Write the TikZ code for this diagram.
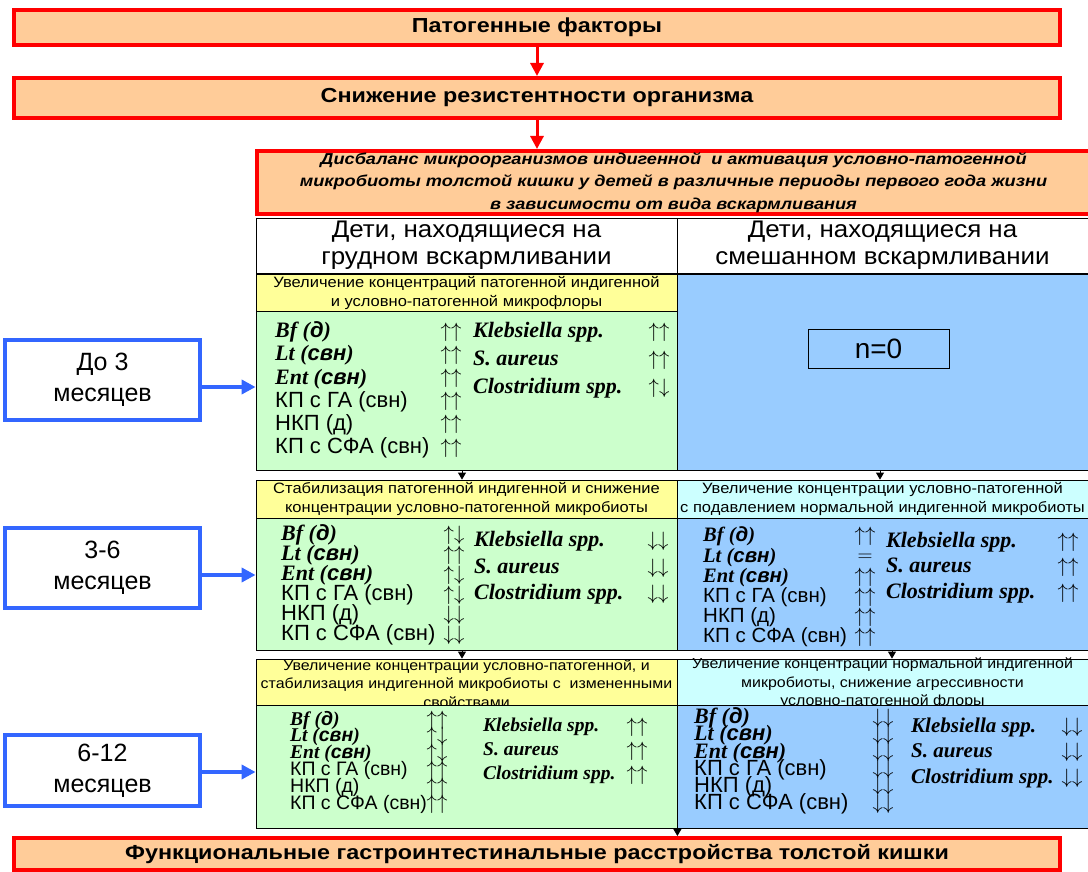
\documentclass[tikz,border=0pt]{standalone}
\usepackage{fontspec}
\setmainfont{Liberation Serif}
\setsansfont{Liberation Sans}
\newfontfamily\widesans[FakeStretch=1.15]{Liberation Sans}
\newfontfamily\midsans[FakeStretch=1.08]{Liberation Sans}
\newfontfamily\narsans[FakeStretch=1.1]{Liberation Sans}
\usetikzlibrary{arrows.meta,positioning}
\definecolor{peach}{HTML}{FFCC99}
\definecolor{hdyel}{HTML}{FFFF99}
\definecolor{bdgrn}{HTML}{CCFFCC}
\definecolor{bdblu}{HTML}{99CCFF}
\definecolor{hdcyn}{HTML}{CCFFFF}
\definecolor{agebl}{HTML}{3366FF}
\newcommand{\fsz}[2]{\fontsize{#1}{#2}\selectfont\lineskiplimit=-50pt}
\newcommand{\gen}[2]{{\rmfamily\bfseries\itshape #1 (\textsf{#2})}}
\newcommand{\upup}{$\uparrow\uparrow$}
\newcommand{\updn}{$\uparrow\downarrow$}
\newcommand{\dndn}{$\downarrow\downarrow$}
\tikzstyle{fact}=[rectangle,draw=red,line width=4pt,fill=peach,inner sep=0pt,align=center,font=\widesans\bfseries\fsz{20.3}{22}]
\tikzstyle{age}=[rectangle,draw=agebl,line width=4pt,fill=white,minimum width=195pt,align=center,font=\sffamily\fsz{25}{31}]
\tikzstyle{hd}=[rectangle,draw,line width=0.8pt,inner sep=0pt,align=center,font=\narsans\fsz{15}{19}]
\tikzstyle{bd}=[rectangle,draw,line width=0.8pt,inner sep=0pt]
\tikzstyle{lst}=[inner sep=0pt,align=left,anchor=west]
\tikzstyle{sgn}=[inner sep=0pt,align=center]
\tikzstyle{redarr}=[-{Triangle[length=13pt,width=13pt]},red,line width=3pt]
\tikzstyle{bluarr}=[-{Triangle[length=14pt,width=14pt]},agebl,line width=4pt]
\tikzstyle{tip}=[-{Triangle[length=7pt,width=8pt]},line width=0.8pt]

\begin{document}
\begin{tikzpicture}[x=1pt,y=-1pt]
\useasboundingbox (0,0) rectangle (1088,872);
% causes
\node[fact,minimum width=1046pt,minimum height=35pt] (pf) at (537,27.5) {Патогенные факторы};
\node[fact,minimum width=1046pt,minimum height=40pt] (sr) at (537,98) {Снижение резистентности организма};
\node[fact,minimum width=833pt,minimum height=63pt,font=\widesans\bfseries\itshape\fsz{15.8}{22.5}] (dis) at (673.5,182.5) {Дисбаланс микроорганизмов индигенной \ и активация условно-патогенной\\микробиоты толстой кишки у детей в различные периоды первого года жизни\\в зависимости от вида вскармливания};
\draw[redarr] (pf.south) -- (sr.north);
\draw[redarr] (sr.south) -- (sr.south |- dis.north);
% feeding type
\node[hd,fill=white,minimum width=421pt,minimum height=55pt,font=\midsans\fsz{24}{27}] (brL) at (466.5,245.5) {Дети, находящиеся на\\грудном вскармливании};
\node[hd,fill=white,minimum width=411pt,minimum height=55pt,font=\midsans\fsz{24}{27}] (brR) at (882.5,245.5) {Дети, находящиеся на\\смешанном вскармливании};
% up to 3 months
\node[hd,fill=hdyel,minimum width=421pt,minimum height=37pt] (h1L) at (466.5,292.5) {Увеличение концентраций патогенной индигенной\\и условно-патогенной микрофлоры};
\node[bd,fill=bdgrn,minimum width=421pt,minimum height=159pt] (b1L) at (466.5,390.5) {};
\node[bd,fill=bdblu,minimum width=411pt,minimum height=196pt] (b1R) at (882.5,372) {};
\node[bd,minimum width=141pt,minimum height=39pt,font=\sffamily\fsz{28}{30}] (n0) at (878.5,348.5) {n=0};
\node[lst,font=\sffamily\fsz{22}{23.2}] (l1L) at (275,390) {\gen{Bf}{д}\\\gen{Lt}{свн}\\\gen{Ent}{свн}\\КП с ГА (свн)\\НКП (д)\\КП с СФА (свн)};
\node[sgn,font=\fsz{22}{23.2}] (s1L) at (451,390) {\upup\\\upup\\\upup\\\upup\\\upup\\\upup};
\node[lst,font=\rmfamily\bfseries\itshape\fsz{22}{28}] (k1L) at (473,360) {Klebsiella spp.\\S. aureus\\Clostridium spp.};
\node[sgn,font=\fsz{22}{28}] (q1L) at (659,360) {\upup\\\upup\\\updn};
% 3-6 months
\node[hd,fill=hdyel,minimum width=421pt,minimum height=38pt] (h2L) at (466.5,499) {Стабилизация патогенной индигенной и снижение\\концентрации условно-патогенной микробиоты};
\node[bd,fill=bdgrn,minimum width=421pt,minimum height=132pt] (b2L) at (466.5,584) {};
\node[hd,fill=hdcyn,minimum width=411pt,minimum height=38pt] (h2R) at (882.5,499) {Увеличение концентрации условно-патогенной\\с подавлением нормальной индигенной микробиоты};
\node[bd,fill=bdblu,minimum width=411pt,minimum height=132pt] (b2R) at (882.5,584) {};
\node[lst,font=\sffamily\fsz{22}{20}] (l2L) at (281,585) {\gen{Bf}{д}\\\gen{Lt}{свн}\\\gen{Ent}{свн}\\КП с ГА (свн)\\НКП (д)\\КП с СФА (свн)};
\node[sgn,font=\fsz{22}{20}] (s2L) at (454,585) {\updn\\\upup\\\updn\\\updn\\\dndn\\\dndn};
\node[lst,font=\rmfamily\bfseries\itshape\fsz{22}{26.5}] (k2L) at (474,568) {Klebsiella spp.\\S. aureus\\Clostridium spp.};
\node[sgn,font=\fsz{22}{26.5}] (q2L) at (658,568) {\dndn\\\dndn\\\dndn};
\node[lst,font=\sffamily\fsz{20.5}{20.2}] (l2R) at (703,587) {\gen{Bf}{д}\\\gen{Lt}{свн}\\\gen{Ent}{свн}\\КП с ГА (свн)\\НКП (д)\\КП с СФА (свн)};
\node[sgn,font=\fsz{21}{20.2}] (s2R) at (865,587) {\upup\\$=$\\\upup\\\upup\\\upup\\\upup};
\node[lst,font=\rmfamily\bfseries\itshape\fsz{22}{25.5}] (k2R) at (886,567.5) {Klebsiella spp.\\S. aureus\\Clostridium spp.};
\node[sgn,font=\fsz{22}{25.5}] (q2R) at (1068,567.5) {\upup\\\upup\\\upup};
\draw[tip] ([xshift=-4.5pt]b1L.south) -- ([xshift=-4.5pt]h2L.north);
\draw[tip] ([xshift=-2.5pt]b1R.south) -- ([xshift=-2.5pt]h2R.north);
% 6-12 months
\node[hd,fill=hdyel,minimum width=421pt,minimum height=46pt] (h3L) at (466.5,682) {};
\node[sgn,font=\narsans\fsz{14.5}{18.5}] (t3L) at (466.5,683.5) {Увеличение концентрации условно-патогенной, и\\стабилизация индигенной микробиоты с \ измененными\\свойствами};
\node[bd,fill=bdgrn,minimum width=421pt,minimum height=123pt] (b3L) at (466.5,766.5) {};
\node[hd,fill=hdcyn,minimum width=411pt,minimum height=46pt] (h3R) at (882.5,682) {};
\node[sgn,font=\narsans\fsz{14.5}{18.5}] (t3R) at (882.5,683.5) {Увеличение концентрации нормальной индигенной\\микробиоты, снижение агрессивности\\условно-патогенной флоры};
\node[bd,fill=bdblu,minimum width=411pt,minimum height=123pt] (b3R) at (882.5,766.5) {};
\node[lst,font=\sffamily\fsz{19.5}{16.8}] (l3L) at (290,762) {\gen{Bf}{д}\\\gen{Lt}{свн}\\\gen{Ent}{свн}\\КП с ГА (свн)\\НКП (д)\\КП с СФА (свн)};
\node[sgn,font=\fsz{19.5}{16.8}] (s3L) at (437,762) {\upup\\\updn\\\updn\\\upup\\\upup\\\upup};
\node[lst,font=\rmfamily\bfseries\itshape\fsz{19.5}{24}] (k3L) at (483,751) {Klebsiella spp.\\S. aureus\\Clostridium spp.};
\node[sgn,font=\fsz{19.5}{24}] (q3L) at (637,751) {\upup\\\upup\\\upup};
\node[lst,font=\sffamily\fsz{22}{17.2}] (l3R) at (694,761) {\gen{Bf}{д}\\\gen{Lt}{свн}\\\gen{Ent}{свн}\\КП с ГА (свн)\\НКП (д)\\КП с СФА (свн)};
\node[sgn,font=\fsz{21}{17.2}] (s3R) at (883,761) {\dndn\\\dndn\\\dndn\\\dndn\\\dndn\\\dndn};
\node[lst,font=\rmfamily\bfseries\itshape\fsz{21}{25.5}] (k3R) at (911,752.5) {Klebsiella spp.\\S. aureus\\Clostridium spp.};
\node[sgn,font=\fsz{21}{25.5}] (q3R) at (1072,752.5) {\dndn\\\dndn\\\dndn};
\draw[tip] ([xshift=-4.5pt]b2L.south) -- ([xshift=-4.5pt]h3L.north);
\draw[tip] ([xshift=9.5pt]b2R.south) -- ([xshift=9.5pt]h3R.north);
% outcome
\node[fact,minimum width=1046pt,minimum height=32pt] (fg) at (537,854) {Функциональные гастроинтестинальные расстройства толстой кишки};
\draw[tip] (b3L.south east) -- (b3L.south east |- fg.north);
% age groups
\node[age,minimum height=80pt] (m1) at (102.5,380) {До 3\\месяцев};
\node[age,minimum height=80pt] (m2) at (102.5,568) {3-6\\месяцев};
\node[age,minimum height=71pt] (m3) at (102.5,770.5) {6-12\\месяцев};
\coordinate (a1) at ([yshift=-7pt]m1.east);
\coordinate (a2) at ([yshift=-7pt]m2.east);
\coordinate (a3) at ([yshift=-1.5pt]m3.east);
\draw[bluarr] (a1) -- (a1 -| b1L.west);
\draw[bluarr] (a2) -- (a2 -| b2L.west);
\draw[bluarr] (a3) -- (a3 -| b3L.west);
\end{tikzpicture}
\end{document}
